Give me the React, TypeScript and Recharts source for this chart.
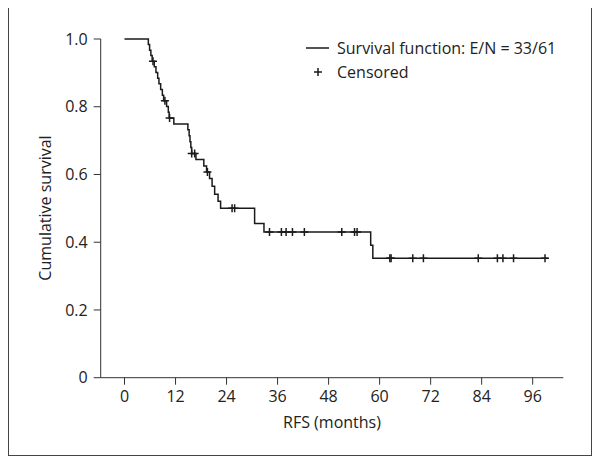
import { ComposedChart, Line, Scatter, XAxis, YAxis } from 'recharts'

// Kaplan-Meier step points
const stepTimes = [0, 5.6, 5.9, 6.2, 6.5, 7.0, 7.4, 7.8, 8.1, 8.5, 8.9, 9.2, 9.9, 10.3, 10.5, 11.6, 14.9, 15.2, 15.4, 15.6, 15.8, 16.8, 18.65, 19.3, 20.0, 20.6, 21.2, 22.0, 22.6, 30.6, 32.8, 57.9, 58.4, 99.6]
const stepSurvival = [1, 0.984, 0.967, 0.951, 0.934, 0.918, 0.901, 0.884, 0.868, 0.851, 0.834, 0.818, 0.801, 0.784, 0.767, 0.749, 0.732, 0.714, 0.697, 0.68, 0.662, 0.644, 0.625, 0.607, 0.588, 0.565, 0.542, 0.521, 0.5, 0.455, 0.43, 0.391, 0.353, 0.353]

// censored observations
const censorTimes = [6.7, 9.5, 10.6, 15.8, 16.5, 19.5, 25.3, 25.9, 34.1, 36.9, 38.0, 39.5, 42.3, 51.1, 54.1, 54.7, 62.4, 62.7, 67.8, 70.3, 83.2, 87.7, 89.0, 91.5, 98.9]
const censorSurvival = [0.934, 0.818, 0.767, 0.662, 0.662, 0.607, 0.5, 0.5, 0.43, 0.43, 0.43, 0.43, 0.43, 0.43, 0.43, 0.43, 0.353, 0.353, 0.353, 0.353, 0.353, 0.353, 0.353, 0.353, 0.353]

const xTicks = [0, 12, 24, 36, 48, 60, 72, 84, 96]
const yTicks = [0, 0.2, 0.4, 0.6, 0.8, 1.0]

const steps = stepTimes.map((t, i) => ({ t, s: stepSurvival[i] }))
const censored = censorTimes.map((t, i) => ({ t, s: censorSurvival[i] }))

const ink = '#1a1a1a'
const font = '"Open Sans", sans-serif'

function Plus({ cx, cy }: any) {
  return <path d={`M${cx - 4},${cy}H${cx + 4}M${cx},${cy - 4}V${cy + 4}`} stroke={ink} strokeWidth={1.5} fill="none" />
}

function ChartLegend() {
  return (
    <div style={{ position: 'absolute', left: 306, top: 36, fontSize: 16, color: '#222', lineHeight: '24px' }}>
      <div style={{ display: 'flex', alignItems: 'center' }}>
        <svg width={24} height={10} style={{ marginRight: 7 }}>
          <line x1={0} y1={5} x2={23} y2={5} stroke={ink} strokeWidth={1.5} />
        </svg>
        Survival function: E/N = 33/61
      </div>
      <div style={{ display: 'flex', alignItems: 'center' }}>
        <svg width={24} height={10} style={{ marginRight: 7 }}>
          <path d="M8,5H16M12,1V9" stroke={ink} strokeWidth={1.5} />
        </svg>
        Censored
      </div>
    </div>
  )
}

export default function App() {
  return (
    <div style={{ position: 'relative', width: 600, height: 464, margin: -8, background: '#fff', fontFamily: font, overflow: 'hidden' }}>
      <div style={{ position: 'absolute', left: 7, top: 5, width: 586, height: 452, border: '2px solid #444', boxSizing: 'border-box' }} />
      <div style={{ position: 'absolute', left: 0, top: 0 }}>
        <ComposedChart width={600} height={464} margin={{ top: 39, right: 36.7, bottom: 56.3, left: 40.7 }}>
          <XAxis
            type="number"
            dataKey="t"
            domain={[-5.6, 103.2]}
            ticks={xTicks}
            allowDataOverflow
            height={30}
            stroke="#333"
            tickSize={7}
            tickMargin={6}
            tick={{ fill: '#222', fontSize: 16, fontFamily: font }}
            label={{ value: 'RFS (months)', position: 'bottom', offset: 9, fill: '#222', fontSize: 16, fontFamily: font }}
          />
          <YAxis
            type="number"
            dataKey="s"
            domain={[0, 1]}
            ticks={yTicks}
            width={60}
            stroke="#333"
            tickSize={7}
            tickMargin={6}
            tick={{ fill: '#222', fontSize: 16, fontFamily: font }}
            tickFormatter={v => (v === 0 ? '0' : v.toFixed(1))}
          />
          <Line
            data={steps}
            dataKey="s"
            type="stepAfter"
            stroke={ink}
            strokeWidth={1.5}
            dot={false}
            activeDot={false}
            isAnimationActive={false}
          />
          <Scatter data={censored} dataKey="s" shape={<Plus />} isAnimationActive={false} />
        </ComposedChart>
      </div>
      <div
        style={{
          position: 'absolute',
          left: 45,
          top: 208,
          transform: 'translate(-50%, -50%) rotate(-90deg)',
          whiteSpace: 'nowrap',
          fontSize: 16,
          color: '#222',
        }}
      >
        Cumulative survival
      </div>
      <ChartLegend />
    </div>
  )
}
